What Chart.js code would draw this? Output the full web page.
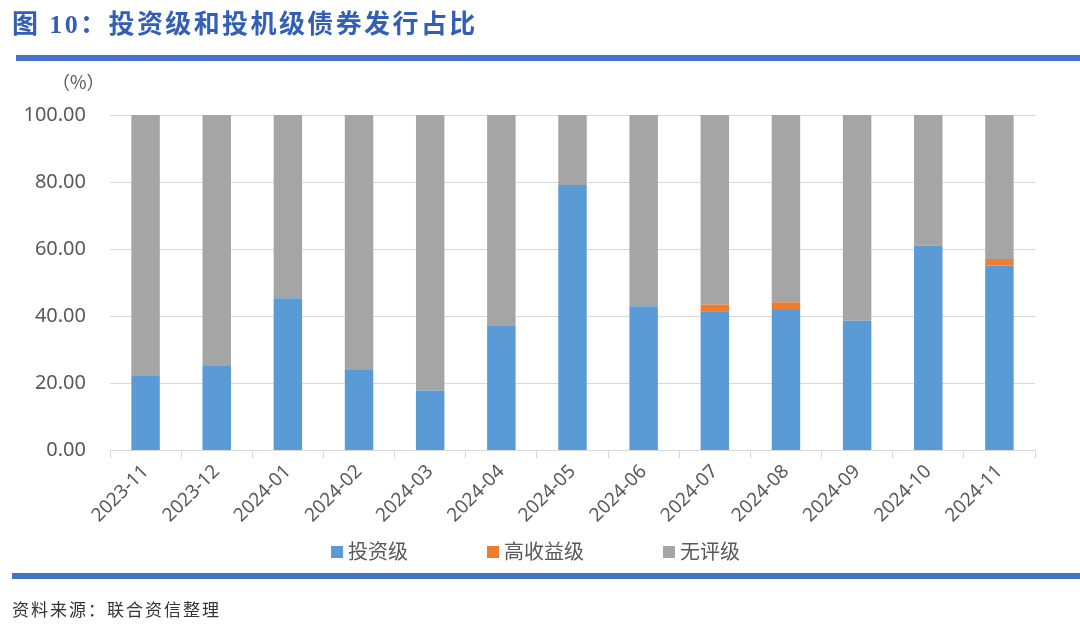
<!DOCTYPE html>
<html>
<head>
<meta charset="utf-8">
<script src="https://cdn.jsdelivr.net/npm/chart.js@4"></script>
<style>
  html, body { margin: 0; padding: 0; background: #fff; }
  body { width: 1080px; height: 628px; position: relative; overflow: hidden; }
  #title {
    position: absolute; left: 12px; top: 3px;
    font-family: "Liberation Serif", "Noto Sans CJK SC", serif;
    font-weight: bold; font-size: 26px; letter-spacing: 2.4px; color: #3360b5;
  }
  .bar { position: absolute; left: 16px; right: 0; height: 6px; background: #4472c4; }
  #unit {
    position: absolute; left: 52px; top: 68px;
    font-family: "Noto Sans CJK SC", sans-serif; font-size: 18px; color: #595959;
  }
  #source {
    position: absolute; left: 12px; top: 596px;
    font-family: "Noto Sans CJK SC", sans-serif; font-size: 17px; color: #333; letter-spacing: 2px;
  }
  #legend {
    position: absolute; top: 537px; left: 0; width: 1080px; height: 28px;
    font-family: "Noto Sans CJK SC", sans-serif; font-size: 20px; color: #595959;
  }
  #legend span { position: absolute; top: 0; line-height: 28px; white-space: nowrap; }
  #legend i { display: inline-block; width: 12px; height: 12px; margin-right: 5px; vertical-align: 1px; }
  #wrap { position: absolute; left: 0; top: 0; width: 1080px; height: 628px; }
</style>
</head>
<body>
<div id="wrap"><canvas id="chart"></canvas></div>
<div id="title">图 10：投资级和投机级债券发行占比</div>
<div class="bar" style="top:55px"></div>
<div id="unit">（%）</div>
<div id="legend"></div>
<div class="bar" style="top:573px; left:12px"></div>
<div id="source">资料来源：联合资信整理</div>

<script>
// months on the x axis
const months = ['2023-11', '2023-12', '2024-01', '2024-02', '2024-03', '2024-04', '2024-05',
                '2024-06', '2024-07', '2024-08', '2024-09', '2024-10', '2024-11'];

// shares in percent
const investGrade = [22.4, 25.4, 45.4, 24.2, 17.9, 37.3, 79.1, 43.0, 41.5, 42.2, 38.7, 61.1, 55.1];
const highYield   = [0, 0, 0, 0, 0, 0, 0, 0, 2.0, 2.0, 0, 0, 2.0];
const unrated     = [77.6, 74.6, 54.6, 75.8, 82.1, 62.7, 20.9, 57.0, 56.5, 55.8, 61.3, 38.9, 42.9];

const seriesNames = ['投资级', '高收益级', '无评级'];
const seriesColors = ['#5b9bd5', '#ed7d31', '#a5a5a5'];

const tickFamily = "'Noto Sans', 'Noto Sans CJK SC', sans-serif";

const chart = new Chart(document.getElementById('chart'), {
    type: 'bar',
    data: {
        labels: months,
        datasets: [
            { label: seriesNames[0], data: investGrade, backgroundColor: seriesColors[0] },
            { label: seriesNames[1], data: highYield, backgroundColor: seriesColors[1] },
            { label: seriesNames[2], data: unrated, backgroundColor: seriesColors[2] }
        ]
    },
    options: {
        responsive: true,
        maintainAspectRatio: false,
        animation: false,
        barPercentage: 0.4,
        categoryPercentage: 1,
        layout: { padding: { left: 0, right: 45, top: 115, bottom: 99 } },
        scales: {
            x: {
                stacked: true,
                grid: {
                    offset: true,
                    drawOnChartArea: false,
                    drawTicks: true,
                    tickLength: 8,
                    color: '#d9d9d9'
                },
                border: { color: '#d9d9d9' },
                ticks: {
                    color: '#595959',
                    font: { family: tickFamily, size: 19 },
                    maxRotation: 45,
                    minRotation: 45,
                    padding: 2
                }
            },
            y: {
                stacked: true,
                min: 0,
                max: 100,
                afterFit: function(axis) { axis.width = 110; },
                grid: { color: '#d9d9d9', drawTicks: false },
                border: { display: false },
                ticks: {
                    stepSize: 20,
                    color: '#595959',
                    font: { family: tickFamily, size: 20 },
                    padding: 24,
                    callback: v => v.toFixed(2)
                }
            }
        },
        plugins: {
            legend: { display: false },
            tooltip: { enabled: false }
        }
    }
});

// legend under the axis, built from the dataset names and colours
const legendLeft = [331, 487, 663];
const legend = document.getElementById('legend');
chart.data.datasets.forEach((ds, i) => {
    const item = document.createElement('span');
    item.style.left = legendLeft[i] + 'px';
    item.innerHTML = '<i style="background:' + ds.backgroundColor + '"></i>' + ds.label;
    legend.appendChild(item);
});
</script>
</body>
</html>
